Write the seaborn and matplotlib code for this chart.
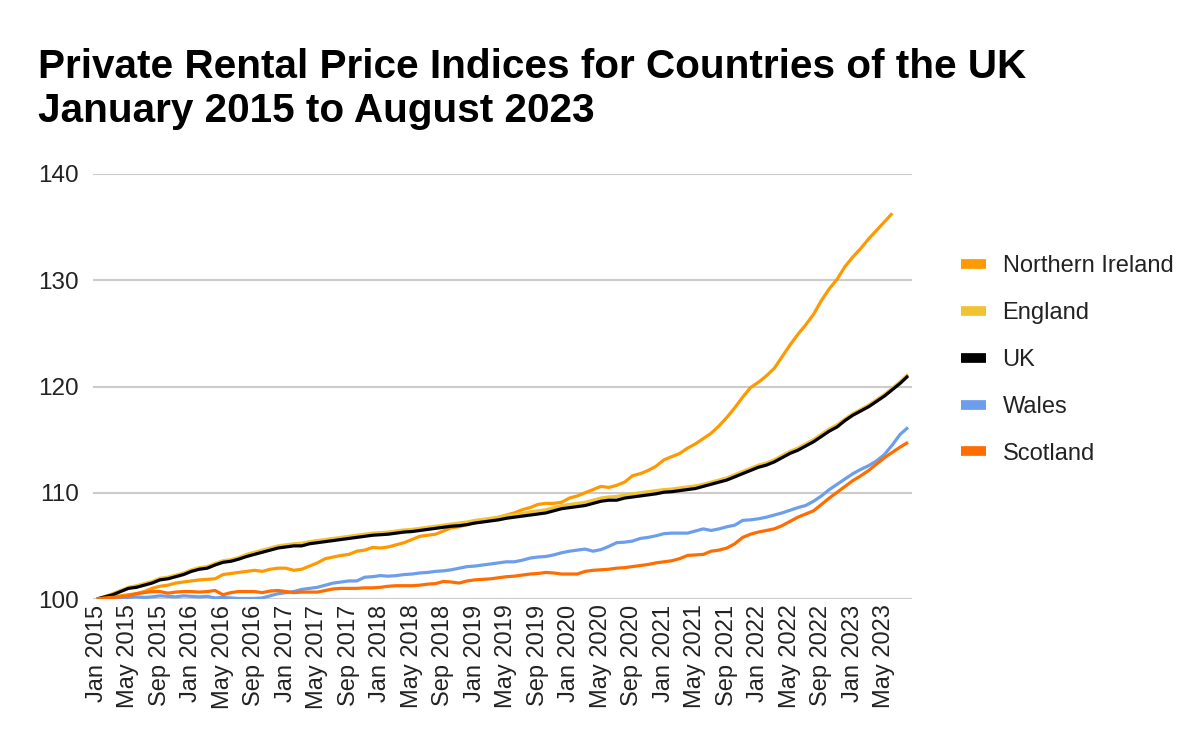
import matplotlib
matplotlib.use("Agg")
import matplotlib.pyplot as plt
from matplotlib.lines import Line2D
import seaborn as sns
import pandas as pd

# ---------------- data ----------------
countries = ["Northern Ireland", "England", "UK", "Wales", "Scotland"]
colors = ["#FF9900", "#F1C232", "#000000", "#6D9EEB", "#FF6D01"]

tick_labels = ["Jan 2015", "May 2015", "Sep 2015", "Jan 2016", "May 2016", "Sep 2016",
               "Jan 2017", "May 2017", "Sep 2017", "Jan 2018", "May 2018", "Sep 2018",
               "Jan 2019", "May 2019", "Sep 2019", "Jan 2020", "May 2020", "Sep 2020",
               "Jan 2021", "May 2021", "Sep 2021", "Jan 2022", "May 2022", "Sep 2022",
               "Jan 2023", "May 2023"]

# Monthly index values, Jan 2015 = 100 (NI series ends Jun 2023, others Aug 2023)
northern_ireland = [
    100.0, 100.1, 100.2, 100.3, 100.4, 100.5, 100.7, 101.0, 101.2, 101.3, 101.5, 101.6,
    101.7, 101.8, 101.85, 101.9, 102.3, 102.4, 102.5, 102.6, 102.7, 102.6, 102.8, 102.9,
    102.9, 102.7, 102.8, 103.1, 103.4, 103.8, 103.95, 104.1, 104.2, 104.5, 104.6, 104.85,
    104.8, 104.9, 105.1, 105.3, 105.6, 105.9, 106.0, 106.1, 106.4, 106.7, 106.8, 107.0,
    107.2, 107.3, 107.5, 107.7, 107.9, 108.1, 108.4, 108.6, 108.9, 109.0, 109.0, 109.1,
    109.5, 109.7, 110.0, 110.3, 110.6, 110.5, 110.7, 111.0, 111.6, 111.8, 112.1, 112.5,
    113.1, 113.4, 113.7, 114.2, 114.6, 115.1, 115.6, 116.3, 117.1, 118.0, 119.0, 119.9,
    120.4, 121.0, 121.7, 122.8, 123.9, 124.9, 125.8, 126.8, 128.1, 129.2, 130.1, 131.3,
    132.2, 133.0, 133.9, 134.7, 135.5, 136.3]

england = [
    100.0, 100.25, 100.5, 100.8, 101.1, 101.25, 101.45, 101.65, 101.95, 102.05, 102.25, 102.45,
    102.75, 102.95, 103.05, 103.35, 103.6, 103.7, 103.9, 104.2, 104.4, 104.6, 104.8, 105.0,
    105.1, 105.2, 105.25, 105.4, 105.5, 105.6, 105.7, 105.8, 105.9, 106.0, 106.1, 106.2,
    106.25, 106.3, 106.4, 106.5, 106.55, 106.65, 106.75, 106.85, 106.95, 107.05, 107.15, 107.25,
    107.4, 107.5, 107.6, 107.7, 107.85, 107.95, 108.05, 108.2, 108.3, 108.4, 108.6, 108.8,
    108.9, 109.0, 109.1, 109.3, 109.5, 109.6, 109.65, 109.8, 109.9, 110.0, 110.1, 110.2,
    110.3, 110.35, 110.45, 110.55, 110.65, 110.8, 111.0, 111.2, 111.4, 111.7, 112.0, 112.3,
    112.6, 112.8, 113.1, 113.5, 113.9, 114.2, 114.6, 115.0, 115.5, 116.0, 116.4, 116.95,
    117.45, 117.85, 118.25, 118.75, 119.25, 119.85, 120.45, 121.15]

uk = [
    100.0, 100.2, 100.4, 100.7, 101.0, 101.1, 101.3, 101.5, 101.8, 101.9, 102.1, 102.3,
    102.6, 102.8, 102.9, 103.2, 103.45, 103.55, 103.75, 104.0, 104.2, 104.4, 104.6, 104.8,
    104.9, 105.0, 105.0, 105.2, 105.3, 105.4, 105.5, 105.6, 105.7, 105.8, 105.9, 106.0,
    106.05, 106.1, 106.2, 106.3, 106.35, 106.45, 106.55, 106.65, 106.75, 106.85, 106.9, 107.0,
    107.15, 107.25, 107.35, 107.45, 107.6, 107.7, 107.8, 107.9, 108.0, 108.1, 108.3, 108.5,
    108.6, 108.7, 108.8, 109.0, 109.2, 109.3, 109.3, 109.5, 109.6, 109.7, 109.8, 109.9,
    110.05, 110.1, 110.2, 110.3, 110.4, 110.6, 110.8, 111.0, 111.2, 111.5, 111.8, 112.1,
    112.4, 112.6, 112.9, 113.3, 113.7, 114.0, 114.4, 114.8, 115.3, 115.8, 116.2, 116.8,
    117.3, 117.7, 118.1, 118.6, 119.1, 119.7, 120.3, 121.0]

wales = [
    100.0, 100.0, 100.1, 100.1, 100.15, 100.2, 100.15, 100.2, 100.3, 100.25, 100.2, 100.3,
    100.25, 100.2, 100.25, 100.1, 100.15, 100.1, 100.05, 100.05, 100.05, 100.1, 100.3, 100.5,
    100.6, 100.7, 100.9, 101.0, 101.1, 101.3, 101.5, 101.6, 101.7, 101.7, 102.05, 102.1,
    102.2, 102.15, 102.2, 102.3, 102.35, 102.45, 102.5, 102.6, 102.65, 102.75, 102.9, 103.05,
    103.1, 103.2, 103.3, 103.4, 103.5, 103.5, 103.65, 103.85, 103.95, 104.0, 104.15, 104.35,
    104.5, 104.6, 104.7, 104.5, 104.65, 104.95, 105.3, 105.35, 105.45, 105.7, 105.8, 105.95,
    106.15, 106.2, 106.2, 106.2, 106.4, 106.6, 106.45, 106.6, 106.8, 106.95, 107.4, 107.45,
    107.55, 107.7, 107.9, 108.1, 108.35, 108.6, 108.8, 109.2, 109.7, 110.3, 110.8, 111.3,
    111.8, 112.2, 112.55, 113.0, 113.6, 114.5, 115.5, 116.15]

scotland = [
    100.0, 100.1, 100.15, 100.2, 100.3, 100.5, 100.6, 100.7, 100.7, 100.55, 100.65, 100.7,
    100.7, 100.65, 100.7, 100.8, 100.4, 100.6, 100.7, 100.7, 100.7, 100.6, 100.75, 100.8,
    100.7, 100.6, 100.65, 100.65, 100.65, 100.8, 100.95, 101.0, 101.0, 101.0, 101.05, 101.05,
    101.1, 101.2, 101.25, 101.25, 101.25, 101.3, 101.4, 101.45, 101.65, 101.6, 101.5, 101.7,
    101.8, 101.85, 101.9, 102.0, 102.1, 102.15, 102.25, 102.35, 102.4, 102.5, 102.45, 102.35,
    102.35, 102.35, 102.6, 102.7, 102.75, 102.8, 102.9, 102.95, 103.05, 103.15, 103.25, 103.4,
    103.5, 103.6, 103.8, 104.1, 104.15, 104.2, 104.5, 104.6, 104.8, 105.2, 105.8, 106.1,
    106.3, 106.45, 106.6, 106.9, 107.3, 107.7, 108.0, 108.3, 108.9, 109.5, 110.05, 110.6,
    111.15, 111.6, 112.1, 112.7, 113.3, 113.8, 114.3, 114.75]

series = [northern_ireland, england, uk, wales, scotland]

rows = []
for name, vals in zip(countries, series):
    for i, v in enumerate(vals):
        rows.append({"month": i, "index": v, "country": name})
df = pd.DataFrame(rows)

# ---------------- plot ----------------
sns.set_theme(style="white")
plt.rcParams["font.family"] = ["Liberation Sans", "DejaVu Sans"]

fig = plt.figure(figsize=(12, 7.55), dpi=100)
ax = fig.add_axes([93 / 1200, 1 - 599 / 755, (912 - 93) / 1200, (599 - 174) / 755])

sns.lineplot(data=df, x="month", y="index", hue="country", hue_order=countries,
             palette=dict(zip(countries, colors)), linewidth=2.3, ax=ax, legend=False,
             solid_capstyle="butt")

ax.set_xlim(-0.5, 103.5)
ax.set_ylim(100, 140)
ax.set_yticks([100, 110, 120, 130, 140])
ax.set_xticks(range(0, 4 * len(tick_labels), 4))
ax.set_xticklabels(tick_labels, rotation=90, fontsize=17, color="#222222")
ax.tick_params(axis="y", labelsize=17.5, colors="#222222", length=0, pad=10)
ax.tick_params(axis="x", length=0, pad=4)
ax.set_xlabel("")
ax.set_ylabel("")
ax.grid(axis="y", color="#cccccc", linewidth=1.5)
ax.grid(axis="x", visible=False)
ax.set_axisbelow(True)
for s in ax.spines.values():
    s.set_visible(False)

handles = [Line2D([0], [0], color=c, linewidth=7, solid_capstyle="butt") for c in colors]
fig.legend(handles, countries, loc="center left", bbox_to_anchor=(940 / 1200, 1 - 360 / 755),
           frameon=False, fontsize=17, handlelength=1.05, handletextpad=0.7,
           labelspacing=1.05, labelcolor="#222222")

fig.text(38 / 1200, 1 - 48 / 755,
         "Private Rental Price Indices for Countries of the UK\nJanuary 2015 to August 2023",
         fontsize=29.2, fontweight="bold", va="top", ha="left", linespacing=1.2, color="black")

fig.savefig("out.png", dpi=100)
